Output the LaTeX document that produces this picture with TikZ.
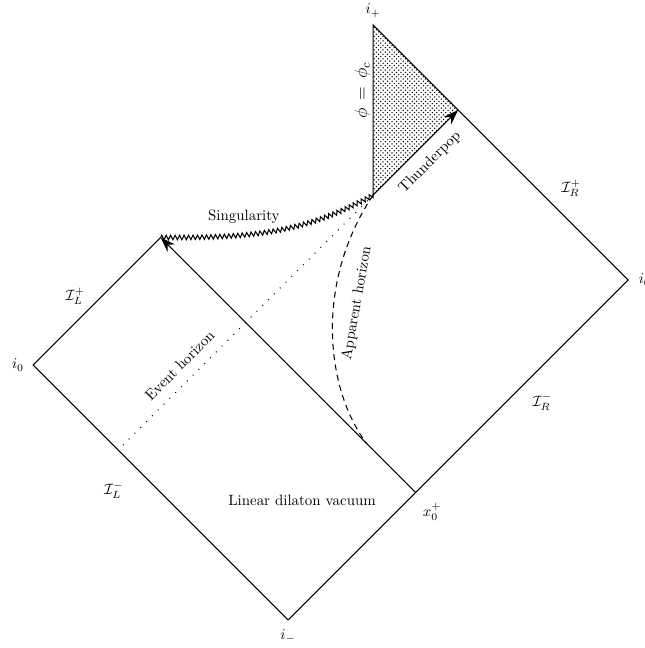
\documentclass[tikz,border=0pt]{standalone}
\usepackage{tikz}
\usepackage{xcolor}
\usetikzlibrary{arrows.meta,calc,positioning,patterns,decorations.pathmorphing}
\definecolor{ink}{HTML}{000000}
\tikzset{
  bound/.style={line width=0.7pt,draw=ink},
  nullray/.style={bound,-{Stealth[length=10pt,width=7pt]}},
  evhor/.style={line width=0.9pt,draw=ink,line cap=round,dash pattern=on 0pt off 5.5pt},
  apphor/.style={line width=0.7pt,draw=ink,dash pattern=on 4pt off 3pt},
  sing/.style={line width=0.7pt,draw=ink,decorate,
               decoration={zigzag,segment length=3pt,amplitude=1.5pt}},
  lbl/.style={inner sep=2pt,text=ink}
}

\begin{document}
\begin{tikzpicture}[x=1cm,y=1cm]
  \useasboundingbox (-6.78,-0.66) rectangle (8.38,14.59);
  % corners of the diagram
  \coordinate (im) at (0,0);
  \coordinate (i0L) at (-6,6);
  \coordinate (tl) at (-3,9);
  \coordinate (x0) at (3,3);
  \coordinate (i0R) at (8,8);
  \coordinate (tp) at (4,12);
  \coordinate (ip) at (2,14);
  \coordinate (sg) at (2,10);
  \coordinate (ah) at (1.85,4.15);
  \coordinate (eh) at (-4,4);

  \fill[pattern=crosshatch dots,pattern color=ink] (sg) -- (ip) -- (tp) -- cycle;
  \draw[bound] (im) -- (i0L) -- (tl);
  \draw[bound] (im) -- (x0) -- (i0R) -- (tp) -- (ip) -- (sg);
  \draw[nullray] (x0) -- (tl);
  \draw[nullray] (sg) -- (tp);
  \draw[sing] (sg) to[out=209,in=0] (tl);
  \draw[evhor] (sg) -- (eh);
  \draw[apphor] (sg) .. controls (0.6,7.9) and (0.9,5.4) .. (ah);

  % labels
  \node[lbl,above=3pt of ip] (lip) {$i_+$};
  \node[lbl,left=4pt of i0L] (li0L) {$i_0$};
  \node[lbl,right=5pt of i0R] (li0R) {$i_0$};
  \node[lbl,below=4pt of im] (lim) {$i_-$};
  \node[lbl] (lx0) at (3.39,2.55) {$x_0^+$};
  \node[lbl] (lscrLp) at (-5.01,7.62) {$\mathcal{I}_L^+$};
  \node[lbl] (lscrLm) at (-4.1,3.05) {$\mathcal{I}_L^-$};
  \node[lbl] (lscrRp) at (6.66,10.16) {$\mathcal{I}_R^+$};
  \node[lbl] (lscrRm) at (5.98,5.13) {$\mathcal{I}_R^-$};
  \node[lbl] (lvac) at (0.33,2.82) {Linear dilaton vacuum};
  \node[lbl] (lsing) at (-1.04,9.5) {Singularity};
  \node[lbl,rotate=45] (leh) at (-2.55,5.99) {Event horizon};
  \node[lbl,rotate=80] (lah) at (1.62,7.46) {Apparent horizon};
  \node[lbl,rotate=45] (ltp) at (3.34,10.77) {Thunderpop};
  \node[lbl,rotate=90] (lphi) at (1.75,12.47) {\large$\phi\,=\,\phi_c$};
\end{tikzpicture}
\end{document}
